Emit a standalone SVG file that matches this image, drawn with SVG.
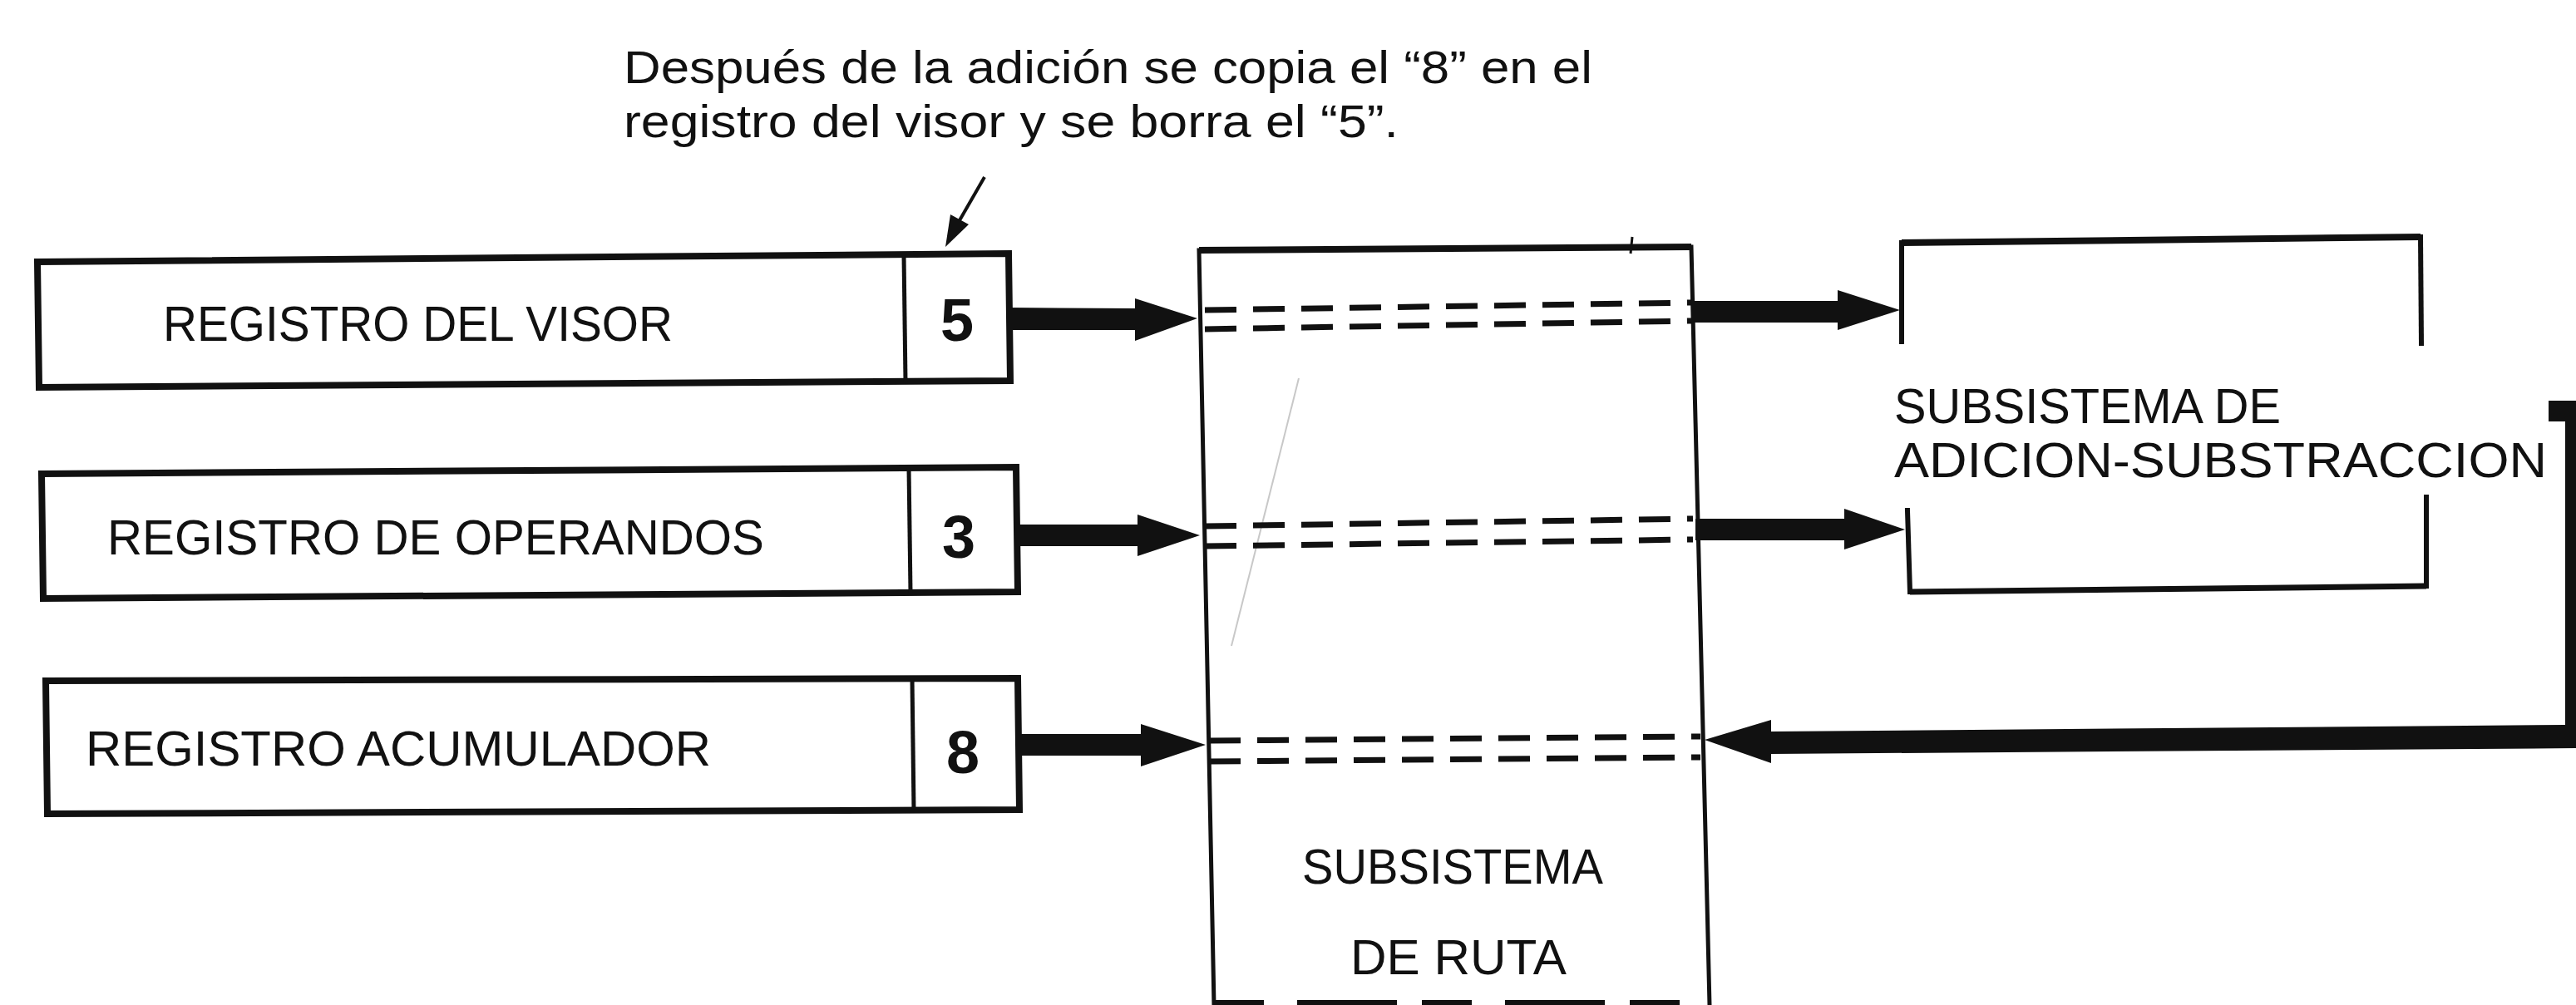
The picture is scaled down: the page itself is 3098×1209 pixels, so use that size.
<svg xmlns="http://www.w3.org/2000/svg" width="3098" height="1209" viewBox="0 0 3098 1209">
<style>
.box{fill:none;stroke:#111;stroke-width:8;stroke-linejoin:miter}
.div{stroke:#111;stroke-width:5}
.edge{stroke:#111;stroke-width:6;fill:none;stroke-linecap:square}
.thin{stroke:#111;stroke-width:5;fill:none}
.lbl{font-family:"Liberation Sans",Arial,sans-serif;font-size:60px;fill:#111}
.num{font-family:"Liberation Sans",Arial,sans-serif;font-size:72px;font-weight:bold;fill:#111}
.note{font-family:"Liberation Sans",Arial,sans-serif;font-size:55px;fill:#111}
.dash{stroke:#111;stroke-width:7;stroke-dasharray:38 20;fill:none}
.arr{fill:#111;stroke:none}
</style>
<rect width="3098" height="1209" fill="#fff"/>

<g id="note">
<text class="note" x="750" y="100" textLength="1165" lengthAdjust="spacingAndGlyphs">Después de la adición se copia el “8” en el</text>
<text class="note" x="750" y="165" textLength="932" lengthAdjust="spacingAndGlyphs">registro del visor y se borra el “5”.</text>
</g>

<g id="reg-visor">
<polygon class="box" points="45,315 1213,305 1215,458 47,466"/>
<line class="div" x1="1087" y1="306" x2="1089" y2="460"/>
<text class="lbl" x="196" y="410" textLength="613" lengthAdjust="spacingAndGlyphs">REGISTRO DEL VISOR</text>
<text class="num" x="1131" y="410">5</text>
</g>

<g id="reg-operandos">
<polygon class="box" points="50,570 1222,562 1224,712 52,720"/>
<line class="div" x1="1093" y1="563" x2="1095" y2="713"/>
<text class="lbl" x="129" y="667" textLength="790" lengthAdjust="spacingAndGlyphs">REGISTRO DE OPERANDOS</text>
<text class="num" x="1133" y="671">3</text>
</g>

<g id="reg-acumulador">
<polygon class="box" points="55,819 1224,816 1226,974 57,979"/>
<line class="div" x1="1097" y1="817" x2="1099" y2="975"/>
<text class="lbl" x="103" y="921" textLength="752" lengthAdjust="spacingAndGlyphs">REGISTRO ACUMULADOR</text>
<text class="num" x="1138" y="930">8</text>
</g>

<g id="subsistema-ruta">
<path class="thin" d="M1460,1209 L1442,301 L2034,297 L2056,1209"/>
<line x1="1442" y1="301" x2="2034" y2="297" stroke="#111" stroke-width="8"/>
<line x1="1460" y1="1206" x2="2056" y2="1206" stroke="#111" stroke-width="6" stroke-dasharray="60 40 120 30"/>
<line x1="1963" y1="285" x2="1961" y2="305" stroke="#111" stroke-width="3"/>
<line x1="1562" y1="455" x2="1481" y2="777" stroke="#c8c8c8" stroke-width="2"/>
<text class="lbl" x="1566" y="1063" textLength="362" lengthAdjust="spacingAndGlyphs">SUBSISTEMA</text>
<text class="lbl" x="1624" y="1172" textLength="260" lengthAdjust="spacingAndGlyphs">DE RUTA</text>
</g>

<g id="subsistema-adicion">
<line x1="2287" y1="292" x2="2911" y2="285" stroke="#111" stroke-width="8"/>
<line class="edge" x1="2287" y1="292" x2="2287" y2="411"/>
<line class="edge" x1="2911" y1="285" x2="2912" y2="413"/>
<line class="edge" x1="2294" y1="614" x2="2297" y2="712"/>
<line class="edge" x1="2918" y1="598" x2="2918" y2="705"/>
<line x1="2297" y1="712" x2="2918" y2="705" stroke="#111" stroke-width="7"/>
<text class="lbl" x="2278" y="509" textLength="465" lengthAdjust="spacingAndGlyphs">SUBSISTEMA DE</text>
<text class="lbl" x="2278" y="574" textLength="785" lengthAdjust="spacingAndGlyphs">ADICION-SUBSTRACCION</text>
</g>

<g id="connectors">
<!-- annotation pointer -->
<line x1="1184" y1="213" x2="1150" y2="272" stroke="#111" stroke-width="4"/>
<polygon class="arr" points="1137,297 1143,258 1165,270"/>
<!-- dashed paths inside route -->
<line class="dash" x1="1449" y1="373" x2="2034" y2="364"/>
<line class="dash" x1="1449" y1="396" x2="2034" y2="386"/>
<line class="dash" x1="1449" y1="633" x2="2036" y2="624"/>
<line class="dash" x1="1449" y1="657" x2="2036" y2="649"/>
<line class="dash" x1="1454" y1="891" x2="2045" y2="886"/>
<line class="dash" x1="1454" y1="916" x2="2045" y2="911"/>
<!-- registers to route -->
<polygon class="arr" points="1213,370 1365,371 1365,359 1440,383 1365,410 1365,397 1213,397"/>
<polygon class="arr" points="1222,631 1368,631 1368,619 1443,644 1368,669 1368,657 1222,657"/>
<polygon class="arr" points="1225,883 1372,883 1372,871 1450,896 1372,922 1372,909 1225,909"/>
<!-- route to add/sub -->
<polygon class="arr" points="2035,362 2210,362 2210,349 2285,373 2210,397 2210,388 2035,388"/>
<polygon class="arr" points="2039,624 2218,624 2218,612 2291,637 2218,661 2218,650 2039,650"/>
<!-- feedback -->
<polygon class="arr" points="3065,482 3110,482 3110,900 2130,907 2130,918 2050,890 2130,866 2130,880 3085,872 3085,507 3065,507"/>
</g>
</svg>
